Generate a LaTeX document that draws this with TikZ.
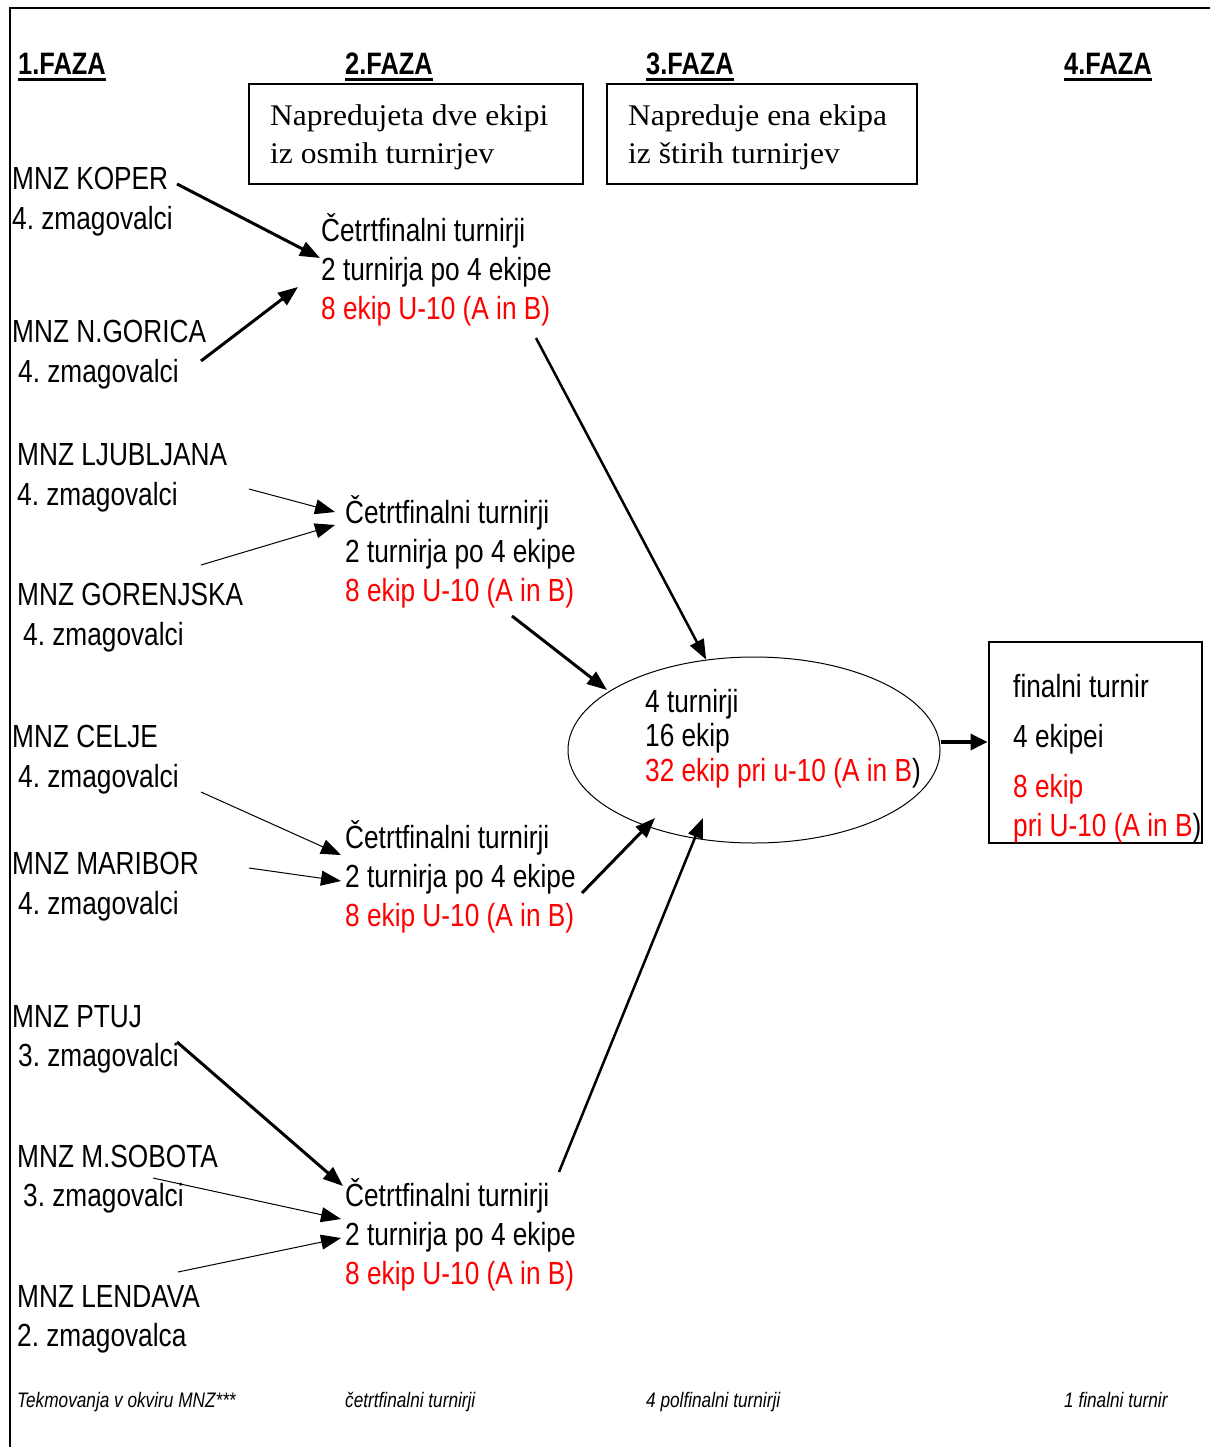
\documentclass[tikz,border=0pt]{standalone}
\usepackage{fontspec}
\setmainfont[FakeStretch=0.82]{Liberation Sans}
\newfontfamily\boxfont[FakeStretch=1.05]{Liberation Serif}
\usetikzlibrary{arrows.meta,shapes}
\frenchspacing
\tikzstyle{lbl}=[anchor=base west,inner sep=0pt,font=\fontsize{32}{38}\selectfont]
\tikzstyle{faza}=[lbl,font=\fontsize{31}{36}\selectfont\bfseries]
\tikzstyle{note}=[lbl,font=\fontsize{21}{24}\selectfont\itshape]
\tikzstyle{rule}=[lbl,font=\boxfont\fontsize{30}{34}\selectfont]
\tikzstyle{box}=[draw,line width=2pt,inner sep=0pt,rectangle]
\tikzstyle{arr}=[draw,-{Triangle[length=20pt,width=15pt]}]
\tikzstyle{arrlight}=[arr,line width=1pt]
\tikzstyle{arrmid}=[arr,line width=2.5pt]
\tikzstyle{arrbold}=[arr,line width=3pt]

\begin{document}
\begin{tikzpicture}[x=1pt,y=-1pt]
    \useasboundingbox (0,0) rectangle (1210,1447);
    % Frame on the left and on top
    \draw[line width=2.5pt] (1210,8) -- (10,8) -- (10,1447);
    % Phase headings
    \foreach \n/\x in {1/18, 2/345, 3/646, 4/1064} {
        \node[faza] (faza\n) at (\x,75) {\n.FAZA};
        \draw[line width=3pt] ([yshift=-5pt]faza\n.base west) -- ([yshift=-5pt]faza\n.base east);
    }
    % Rule boxes
    \node[box,minimum width=334pt,minimum height=100pt] (rule2) at (416,134) {};
    \node[rule] (rule2a) at (270,126) {Napredujeta dve ekipi};
    \node[rule] (rule2b) at (270,164) {iz osmih turnirjev};
    \node[box,minimum width=310pt,minimum height=100pt] (rule3) at (762,134) {};
    \node[rule] (rule3a) at (628,126) {Napreduje ena ekipa};
    \node[rule] (rule3b) at (628,164) {iz štirih turnirjev};
    % First we draw the regional leagues
    \foreach \x/\y/\name/\txt/\sx/\sy/\sub in {
        12/190/koper/MNZ KOPER/12/230/4. zmagovalci,
        12/342/gorica/MNZ N.GORICA/18/382/4. zmagovalci,
        17/465/ljubljana/MNZ LJUBLJANA/17/505/4. zmagovalci,
        17/605/gorenjska/MNZ GORENJSKA/23/645/4. zmagovalci,
        12/747/celje/MNZ CELJE/18/787/4. zmagovalci,
        12/874/maribor/MNZ MARIBOR/18/914/4. zmagovalci,
        12/1027/ptuj/MNZ PTUJ/18/1066/3. zmagovalci,
        17/1167/sobota/MNZ M.SOBOTA/23/1206/3. zmagovalci,
        17/1307/lendava/MNZ LENDAVA/17/1346/2. zmagovalca}
    {
        \node[lbl] (\name) at (\x,\y) {\txt};
        \node[lbl] (\name-w) at (\sx,\sy) {\sub};
    }
    % Quarterfinal tournaments
    \foreach \n/\x/\y in {1/321/241, 2/345/523, 3/345/848, 4/345/1206} {
        \node[lbl] (qf\n-a) at (\x,\y) {Četrtfinalni turnirji};
        \node[lbl] (qf\n-b) at (\x,\y+39) {2 turnirja po 4 ekipe};
        \node[lbl,red] (qf\n-c) at (\x,\y+78) {8 ekip U-10 (A in B)};
    }
    % Semifinals and final
    \node[draw,ellipse,line width=1pt,minimum width=372pt,minimum height=186pt] (semi) at (754,750) {};
    \node[lbl] (semi-a) at (645,712) {4 turnirji};
    \node[lbl] (semi-b) at (645,746) {16 ekip};
    \node[lbl] (semi-c) at (645,781) {{\color{red}32 ekip pri u-10 (A in B})};
    \node[box,minimum width=213pt,minimum height=201pt] (final) at (1095,742) {};
    \node[lbl] (final-a) at (1013,697) {finalni turnir};
    \node[lbl] (final-b) at (1013,747) {4 ekipei};
    \node[lbl,red] (final-c) at (1013,797) {8 ekip};
    \node[lbl] (final-d) at (1013,836) {{\color{red}pri U-10 (A in B})};
    % Notes at the bottom
    \foreach \x/\name/\txt in {17/note1/Tekmovanja v okviru MNZ***, 345/note2/četrtfinalni turnirji,
        646/note3/4 polfinalni turnirji, 1064/note4/1 finalni turnir}
        \node[note] (\name) at (\x,1407) {\txt};
    % Connect leagues with quarterfinals
    \path[arrbold] ([shift={(165,-6)}]koper.base west) -- ([shift={(-1,-22)}]qf1-b.base west);
    \path[arrbold] ([shift={(183,-21)}]gorica-w.base west) -- ([shift={(-23,7)}]qf1-b.base west);
    \path[arrlight] ([shift={(232,-16)}]ljubljana-w.base west) -- ([shift={(-10,-11)}]qf2-a.base west);
    \path[arrlight] ([shift={(184,-40)}]gorenjska.base west) -- ([shift={(-10,2)}]qf2-a.base west);
    \path[arrlight] ([shift={(183,5)}]celje-w.base west) -- ([shift={(-4,7)}]qf3-a.base west);
    \path[arrlight] ([shift={(237,-6)}]maribor.base west) -- ([shift={(-4,-6)}]qf3-b.base west);
    \path[arrbold] ([shift={(159,-24)}]ptuj-w.base west) -- ([shift={(-2,-20)}]qf4-a.base west);
    \path[arrlight] ([shift={(130,-28)}]sobota-w.base west) -- ([shift={(-4,-26)}]qf4-b.base west);
    \path[arrlight] ([shift={(161,-35)}]lendava.base west) -- ([shift={(-4,-7)}]qf4-b.base west);
    % Quarterfinals to semifinals
    \path[arrmid] ([shift={(215,19)}]qf1-c.base west) -- (semi);
    \path[arrbold] ([shift={(167,15)}]qf2-c.base west) -- ([shift={(-147,-60)}]semi.center);
    \path[arrbold] ([shift={(237,6)}]qf3-b.base west) -- ([shift={(-99,68)}]semi.center);
    \path[arrmid] ([shift={(214,-34)}]qf4-a.base west) -- ([shift={(-51,68)}]semi.center);
    % Semifinals to final
    \path[draw,line width=3.5pt,-{Triangle[length=17pt,width=16pt]}] (semi.east |- final.west) -- (final.west);
\end{tikzpicture}
\end{document}
